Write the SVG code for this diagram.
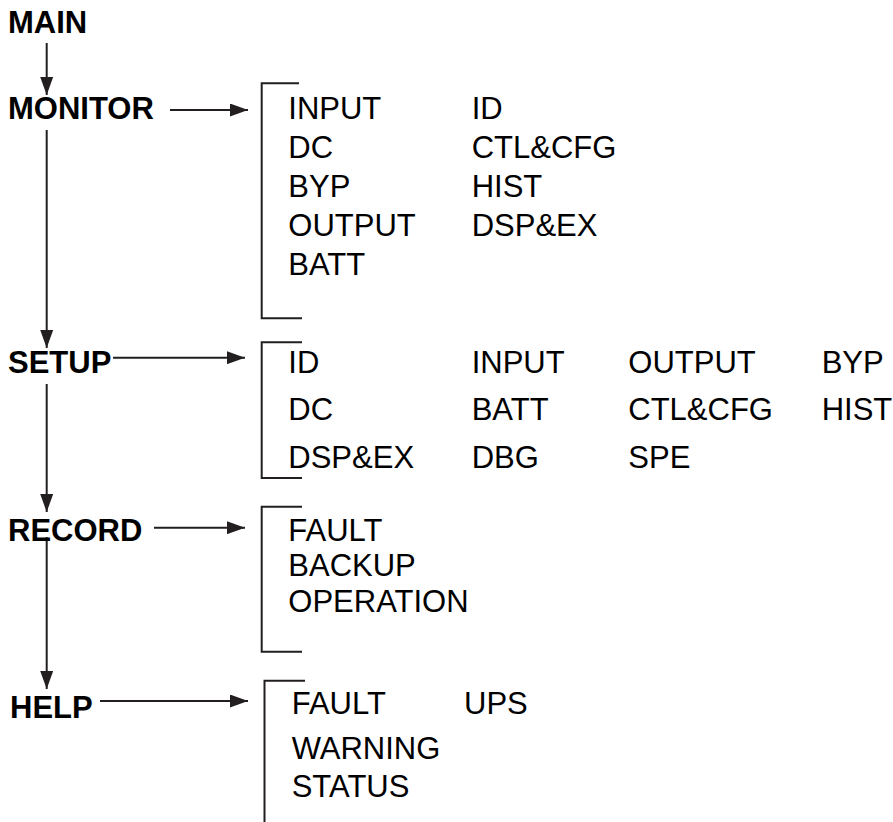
<svg xmlns="http://www.w3.org/2000/svg" width="893" height="822" viewBox="0 0 893 822">
<style>
.h{font-family:"Liberation Sans",Arial,sans-serif;font-size:31px;font-weight:bold;fill:#000}
.t{font-family:"Liberation Sans",Arial,sans-serif;font-size:31px;fill:#000}
.c{stroke:#231f20;stroke-width:2;fill:none}
</style>
<defs>
<marker id="ah" markerUnits="userSpaceOnUse" markerWidth="18" markerHeight="13" refX="18" refY="6.5" orient="auto">
<path d="M0,0 L18,6.5 L0,13 z" fill="#231f20"/>
</marker>
</defs>
<g id="connectors">
<line class="c" x1="46.7" y1="43" x2="46.7" y2="95" marker-end="url(#ah)"/>
<line class="c" x1="46.7" y1="130" x2="46.7" y2="348" marker-end="url(#ah)"/>
<line class="c" x1="46.7" y1="384" x2="46.7" y2="512" marker-end="url(#ah)"/>
<line class="c" x1="46.7" y1="537" x2="46.7" y2="689" marker-end="url(#ah)"/>
<line class="c" x1="170" y1="110" x2="248" y2="110" marker-end="url(#ah)"/>
<line class="c" x1="113" y1="357.7" x2="245" y2="357.7" marker-end="url(#ah)"/>
<line class="c" x1="154" y1="527.7" x2="245" y2="527.7" marker-end="url(#ah)"/>
<line class="c" x1="100" y1="701" x2="248" y2="701" marker-end="url(#ah)"/>
</g>
<g id="main"><text class="h" x="8" y="33">MAIN</text></g>
<g id="monitor"><text class="h" x="8" y="119">MONITOR</text></g>
<g id="setup"><text class="h" x="8" y="372.7">SETUP</text></g>
<g id="record"><text class="h" x="8" y="541">RECORD</text></g>
<g id="help"><text class="h" x="10" y="718">HELP</text></g>
<g id="monitor-menu">
<path class="c" d="M299,83.3 H261.7 V318.3 H302"/>
<text class="t" x="288.3" y="119.3">INPUT</text>
<text class="t" x="288.3" y="158.3">DC</text>
<text class="t" x="288.3" y="196.7">BYP</text>
<text class="t" x="288.3" y="235.7">OUTPUT</text>
<text class="t" x="288.3" y="275">BATT</text>
<text class="t" x="471.7" y="119.3">ID</text>
<text class="t" x="471.7" y="158.3">CTL&amp;CFG</text>
<text class="t" x="471.7" y="196.7">HIST</text>
<text class="t" x="471.7" y="235.7">DSP&amp;EX</text>
</g>
<g id="setup-menu">
<path class="c" d="M302,342.3 H261.7 V478 H302"/>
<text class="t" x="288.3" y="373.3">ID</text>
<text class="t" x="288.3" y="420">DC</text>
<text class="t" x="288.3" y="467.7">DSP&amp;EX</text>
<text class="t" x="471.7" y="373.3">INPUT</text>
<text class="t" x="471.7" y="420">BATT</text>
<text class="t" x="471.7" y="467.7">DBG</text>
<text class="t" x="628.3" y="373.3">OUTPUT</text>
<text class="t" x="628.3" y="420">CTL&amp;CFG</text>
<text class="t" x="628.3" y="467.7">SPE</text>
<text class="t" x="821.7" y="373.3">BYP</text>
<text class="t" x="821.7" y="420">HIST</text>
</g>
<g id="record-menu">
<path class="c" d="M302,506.7 H261.7 V651.7 H302"/>
<text class="t" x="288.3" y="541">FAULT</text>
<text class="t" x="288.3" y="576">BACKUP</text>
<text class="t" x="288.3" y="611.7">OPERATION</text>
</g>
<g id="help-menu">
<path class="c" d="M305,680.7 H264.5 V822"/>
<text class="t" x="291.7" y="714">FAULT</text>
<text class="t" x="291.7" y="759.3">WARNING</text>
<text class="t" x="291.7" y="796.7">STATUS</text>
<text class="t" x="464" y="714">UPS</text>
</g>
</svg>
